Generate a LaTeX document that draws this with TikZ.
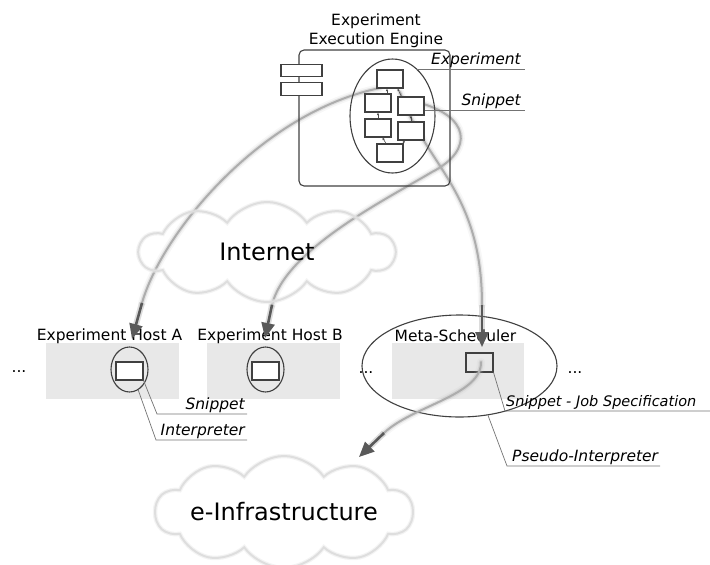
\documentclass[tikz,border=0pt]{standalone}
\usepackage{fontspec}
\setmainfont{DejaVu Sans}
\usetikzlibrary{shapes.geometric,shapes.symbols,arrows.meta}

\begin{document}
\begin{tikzpicture}[x=1pt,y=-1pt,
  font=\fontsize{15.5}{19}\selectfont,
  outline/.style={draw=black!75, line width=1.1pt},
  port/.style={outline, fill=white, rectangle, minimum width=41pt, minimum height=12.5pt, inner sep=0pt},
  task/.style={outline, fill=white, rectangle, minimum width=26pt, minimum height=18pt, inner sep=0pt},
  hostbg/.style={fill=black!9, draw=none, rectangle, minimum width=133pt, minimum height=56pt, inner sep=0pt},
  oval/.style={outline, ellipse, inner sep=0pt},
  leader/.style={draw=black!55, line width=0.7pt},
  tag/.style={font=\fontsize{15.5}{19}\selectfont\itshape, inner sep=0pt},
  plain/.style={inner sep=0pt},
  cloudbox/.style={cloud, cloud puffs=10, cloud puff arc=110, cloud ignores aspect,
    draw=black!13, line width=2pt, inner sep=0pt,
    preaction={draw=black!9, line width=4.5pt, opacity=.5},
    font=\fontsize{24}{28}\selectfont},
  wire/.style={draw=black!70, line width=0.6pt, -{Latex[length=2.5pt,width=2.5pt]}},
  flow/.style={draw=black!32, line width=2pt, line cap=round,
    preaction={draw=black!30, line width=4.5pt, opacity=.3, line cap=round},
    preaction={draw=black!25, line width=8pt, opacity=.12, line cap=round}},
  flowend/.style={draw=black!65, line width=2.6pt,
    preaction={draw=black!45, line width=6pt, opacity=.3},
    -{Triangle[length=15pt,width=13pt]}}
]
\useasboundingbox (0,0) rectangle (710,565);
\clip (0,0) rectangle (710,565);

% snippet transfers: curve bodies, drawn underneath the engine and hosts
\coordinate (s1) at (380,88);
\coordinate (p1) at (142,303); \coordinate (t1) at (132,339);
\coordinate (s2) at (416,102); \coordinate (m2) at (432,172);
\coordinate (p2) at (272,305); \coordinate (t2) at (265,338);
\coordinate (s3) at (400,92);
\coordinate (p3) at (482,305); \coordinate (t3) at (482,347);

\draw[flow] (s1) .. controls (262,112) and (162,232) .. (p1);
\draw[flow] (s2) .. controls (470,115) and (475,150) .. (m2) .. controls (385,200) and (285,250) .. (p2);
\draw[flow] (s3) .. controls (425,165) and (482,190) .. (p3);

% clouds
\node[cloudbox, minimum width=255pt, minimum height=100pt] (net) at (267,252) {Internet};
\node[cloudbox, minimum width=257pt, minimum height=112pt] (infra) at (284,512) {e-Infrastructure};

% execution engine component
\node[outline, rectangle, rounded corners=5pt, minimum width=151pt, minimum height=136pt, inner sep=0pt] (engine) at (374.5,118) {};
\node[plain, align=center, anchor=north] (title) at (376,13.2) {Experiment\\Execution Engine};
\node[port] (port1) at (301.5,70.5) {};
\node[port] (port2) at (301.5,89) {};
\node[oval, minimum width=85pt, minimum height=114pt] (eel) at (392.5,116) {};
\node[task] (b1) at (390,79) {};
\node[task] (b2) at (378,103) {};
\node[task] (b3) at (411,106) {};
\node[task] (b4) at (378,128) {};
\node[task] (b5) at (411,131) {};
\node[task] (b6) at (390,153) {};
\draw[wire] ([xshift=9pt]b2.north) -- ([xshift=9pt]b2.north |- b1.south);
\draw[wire] ([xshift=4pt]b3.north west) -- ([xshift=-6pt]b1.south east);
\draw[wire] (b4.north) -- (b2.south);
\draw[wire] (b5.north) -- (b3.south);
\draw[wire] ([xshift=9.5pt]b6.north west) -- ([xshift=4.5pt]b4.south);
\draw[wire] ([xshift=-1pt]b6.north east) -- ([xshift=-6pt]b5.south);

% engine labels
\coordinate (expR) at (525,70);
\coordinate (snpR) at (525,110);
\draw[leader] (eel.62) -- (eel.62 -| expR);
\node[tag, anchor=base east] (lexp) at (521,64) {Experiment};
\draw[leader] ([yshift=-4pt]b3.east) -- ([yshift=-4pt]b3.east -| snpR);
\node[tag, anchor=base east] (lsnp) at (521,105) {Snippet};

% hosts
\node[hostbg] (hostA) at (112.5,371) {};
\node[hostbg] (hostB) at (273.5,371) {};
\node[hostbg, minimum width=132pt] (metabg) at (458,371) {};
\node[plain, anchor=base] (labA) at (109.5,340) {Experiment Host A};
\node[plain, anchor=base] (labB) at (270,340) {Experiment Host B};
\node[oval, minimum width=37pt, minimum height=45pt] (ea) at (129.5,369.5) {};
\node[task, minimum width=27pt] (ra) at (129.5,371) {};
\node[oval, minimum width=37pt, minimum height=45pt] (eb) at (265.5,369.5) {};
\node[task, minimum width=27pt] (rb) at (265.5,371) {};
\node[oval, minimum width=195pt, minimum height=102pt] (em) at (459.5,366) {};
\node[plain, anchor=base] (labM) at (455.5,341) {Meta-Scheduler};
\node[outline, rectangle, minimum width=27pt, minimum height=19pt, inner sep=0pt] (rm) at (479.5,362.5) {};

\node[plain] (dots1) at (19,372) {...};
\node[plain] (dots2) at (366,373) {...};
\node[plain] (dots3) at (575,373) {...};

% host labels
\coordinate (aS1) at (157,414); \coordinate (aS2) at (247,414);
\coordinate (aI1) at (156,440); \coordinate (aI2) at (247,440);
\draw[leader] (ra.south east) -- (aS1) -- (aS2);
\draw[leader] (ea.-67) -- (aI1) -- (aI2);
\node[tag, anchor=base east] (lsa) at (245,409) {Snippet};
\node[tag, anchor=base east] (lia) at (245,435) {Interpreter};

\coordinate (mS1) at (505,411); \coordinate (mS2) at (712,411);
\coordinate (mI1) at (507,466); \coordinate (mI2) at (660,466);
\draw[leader] (rm.south east) -- (mS1) -- (mS2);
\draw[leader] (em.-60) -- (mI1) -- (mI2);
\node[tag, anchor=base west, font=\fontsize{14.5}{18}\selectfont\itshape] (lsm) at (506,406) {Snippet - Job Specification};
\node[tag, anchor=base west] (lpm) at (512,461) {Pseudo-Interpreter};

% job hand-over from the meta-scheduler to the e-infrastructure
\coordinate (s4) at (481,362);
\coordinate (p4) at (384,433); \coordinate (t4) at (359,457);
\draw[flow] (s4) .. controls (482,395) and (412,406) .. (p4);

% snippet transfers: darkening ends with arrowheads, drawn on top
\draw[flowend] (p1) -- (t1);
\draw[flowend] (p2) -- (t2);
\draw[flowend] (p3) -- (t3);
\draw[flowend] (p4) -- (t4);
\end{tikzpicture}
\end{document}
